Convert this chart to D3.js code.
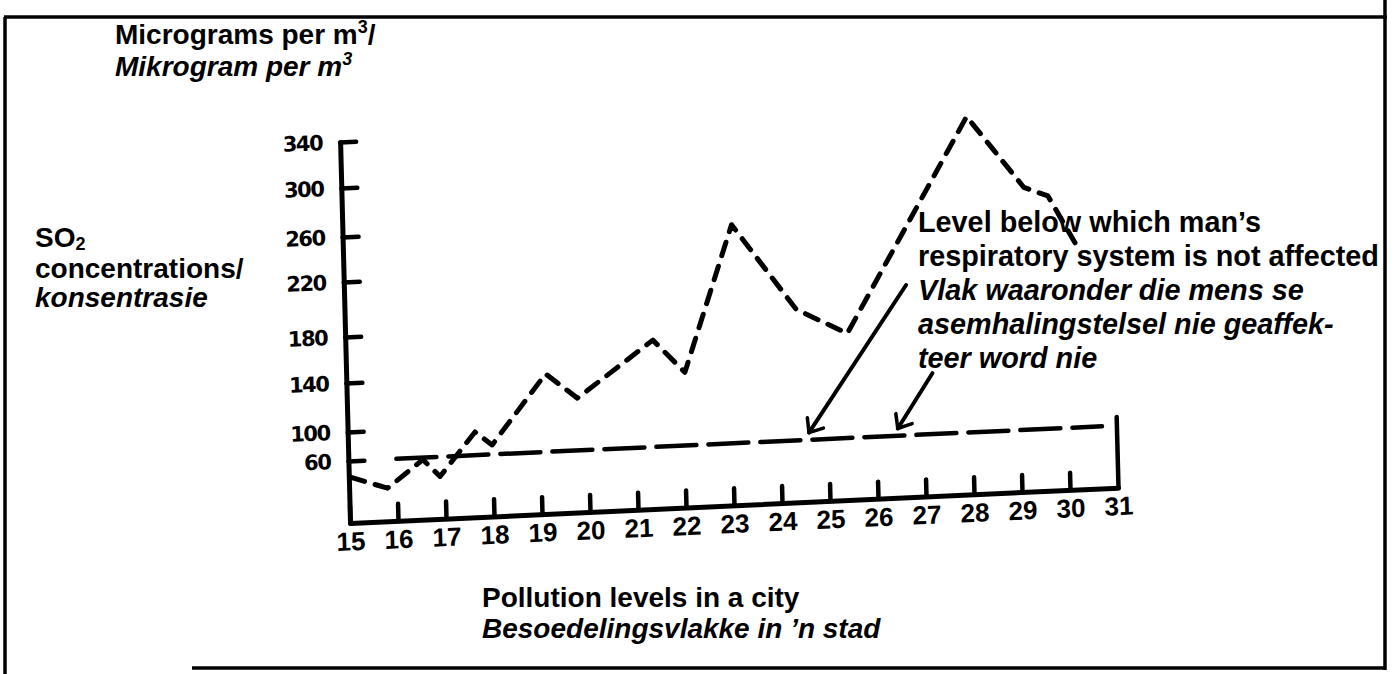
<!DOCTYPE html>
<meta charset="utf-8">
<style>
body { margin: 0; background: #fff; }
svg text { font-family: "Liberation Sans", Arial, sans-serif; font-weight: bold; fill: #000; }
.it { font-style: italic; }
.xax text { font-family: "Liberation Sans Narrow", "Liberation Sans", sans-serif; font-size: 26px; }
.yax text { font-family: "DejaVu Sans", sans-serif; font-size: 21px; font-weight: bold; letter-spacing: -1.5px; }
.xax line, .yax line { stroke: #000; stroke-width: 4.5; stroke-linecap: round; }
.xax path, .yax path { stroke: #000; stroke-width: 5; stroke-linecap: round; fill: none; }
</style>
<body>
<svg id="chart" width="1395" height="674"></svg>
<script src="https://d3js.org/d3.v7.min.js"></script>
<script>
// values
var days = [15.05, 15.8, 16.55, 16.9, 17.65, 18.0, 19.15, 19.8, 21.4, 22.05, 23.1, 24.4, 25.45, 28.05, 29.2, 29.7, 30.3];
var so2 = [44, 32, 58, 41, 92, 73, 140, 119, 165, 136, 255, 185, 163, 337, 275, 267, 220];
var dayTicks = [15, 16, 17, 18, 19, 20, 21, 22, 23, 24, 25, 26, 27, 28, 29, 30, 31];
var yTicks = [60, 100, 140, 180, 220, 260, 300, 340];
var yTickLabels = ["60", "100", "140", "180", "220", "260", "300", "340"];
var limitDays = [16, 30.7];
var limitValues = [60, 60];
var arrowFrom = [[26.7, 199], [27.2, 126]];
var arrowTo = [[24.6, 70], [26.45, 70]];

var svg = d3.select("#chart");

// frame round the figure
var frame = svg.append("g").attr("stroke", "#000").attr("stroke-width", 3.5);
frame.append("line").attr("x1", 4).attr("y1", 17).attr("x2", 1387).attr("y2", 17);
frame.append("line").attr("x1", 5).attr("y1", 17).attr("x2", 5).attr("y2", 674);
frame.append("line").attr("x1", 1385).attr("y1", 0).attr("x2", 1385).attr("y2", 670);
frame.append("line").attr("x1", 192).attr("y1", 668).attr("x2", 1386).attr("y2", 668);

// the drawing is slightly tilted: axes are not square to the page
var plot = svg.append("g").attr("transform", "matrix(1,-0.046,0.026,1,350,523)");

var x = d3.scaleLinear().domain([15, 31]).range([0, 768]);
// hand-drawn value axis, ticks are not evenly spaced
var y = d3.scaleLinear()
    .domain([0, 60, 100, 140, 180, 220, 260, 300, 340])
    .range([0, -62, -91, -140, -186, -241, -286, -335, -381]);

var yAxis = plot.append("g").attr("class", "yax")
    .call(d3.axisLeft(y).tickValues(yTicks).tickSizeInner(-16).tickSizeOuter(0).tickPadding(18)
      .tickFormat(function(d, i) { return yTickLabels[i]; }));

var xAxis = plot.append("g").attr("class", "xax")
    .call(d3.axisBottom(x).tickValues(dayTicks).tickSizeInner(-17).tickSizeOuter(0).tickPadding(9));

xAxis.selectAll(".tick line").filter(function(d) { return d == 31; })
    .attr("y2", y(72));

var line = d3.line()
    .x(function(d) { return x(d[0]); })
    .y(function(d) { return y(d[1]); });

plot.append("path")
    .datum(d3.zip(limitDays, limitValues))
    .attr("d", line)
    .attr("fill", "none")
    .attr("stroke", "#000")
    .attr("stroke-width", 4.5)
    .attr("stroke-dasharray", "40 12")
    .attr("stroke-linecap", "round");

plot.append("path")
    .datum(d3.zip(days, so2))
    .attr("d", line)
    .attr("fill", "none")
    .attr("stroke", "#000")
    .attr("stroke-width", 5)
    .attr("stroke-dasharray", "14 11")
    .attr("stroke-linecap", "round")
    .attr("stroke-linejoin", "round");

// annotation arrows pointing at the limit line
arrowFrom.forEach(function(f, i) {
  var t = arrowTo[i];
  var x0 = x(f[0]), y0 = y(f[1]), x1 = x(t[0]), y1 = y(t[1]);
  var a = Math.atan2(y0 - y1, x0 - x1), s = 40 * Math.PI / 180, len = 15;
  var g = plot.append("g").attr("stroke", "#000").attr("stroke-width", 4).attr("stroke-linecap", "round").attr("fill", "none");
  g.append("line").attr("x1", x0).attr("y1", y0).attr("x2", x1).attr("y2", y1);
  g.append("path").attr("d", "M" + (x1 + len * Math.cos(a - s)) + "," + (y1 + len * Math.sin(a - s)) +
      "L" + x1 + "," + y1 + "L" + (x1 + len * Math.cos(a + s)) + "," + (y1 + len * Math.sin(a + s)))
    .attr("stroke-width", 3.5).attr("stroke-linejoin", "round");
});

// texts
function sup(t, base, small, shift) {
  t.append("tspan").text(base);
  t.append("tspan").attr("font-size", 18).attr("dy", shift).text(small);
}

var t1 = svg.append("text").attr("x", 115).attr("y", 44).attr("font-size", 28);
sup(t1, "Micrograms per m", "3", -11);
t1.append("tspan").attr("dy", 11).text("/");

var t2 = svg.append("text").attr("class", "it").attr("x", 115).attr("y", 76).attr("font-size", 28);
sup(t2, "Mikrogram per m", "3", -11);

var t3 = svg.append("text").attr("x", 35).attr("y", 247).attr("font-size", 28);
sup(t3, "SO", "2", 3);
svg.append("text").attr("x", 35).attr("y", 278).attr("font-size", 28).text("concentrations/");
svg.append("text").attr("class", "it").attr("x", 35).attr("y", 307).attr("font-size", 28).text("konsentrasie");

var note = [
  ["Level below which man\u2019s", false],
  ["respiratory system is not affected", false],
  ["Vlak waaronder die mens se", true],
  ["asemhalingstelsel nie geaffek-", true],
  ["teer word nie", true]
];
note.forEach(function(n, i) {
  svg.append("text").attr("class", n[1] ? "it" : null)
    .attr("x", 918).attr("y", 232 + i * 34).attr("font-size", 28.8).text(n[0]);
});

svg.append("text").attr("x", 482).attr("y", 607).attr("font-size", 28).text("Pollution levels in a city");
svg.append("text").attr("class", "it").attr("x", 482).attr("y", 638).attr("font-size", 28).text("Besoedelingsvlakke in \u2019n stad");
</script>
</body>
